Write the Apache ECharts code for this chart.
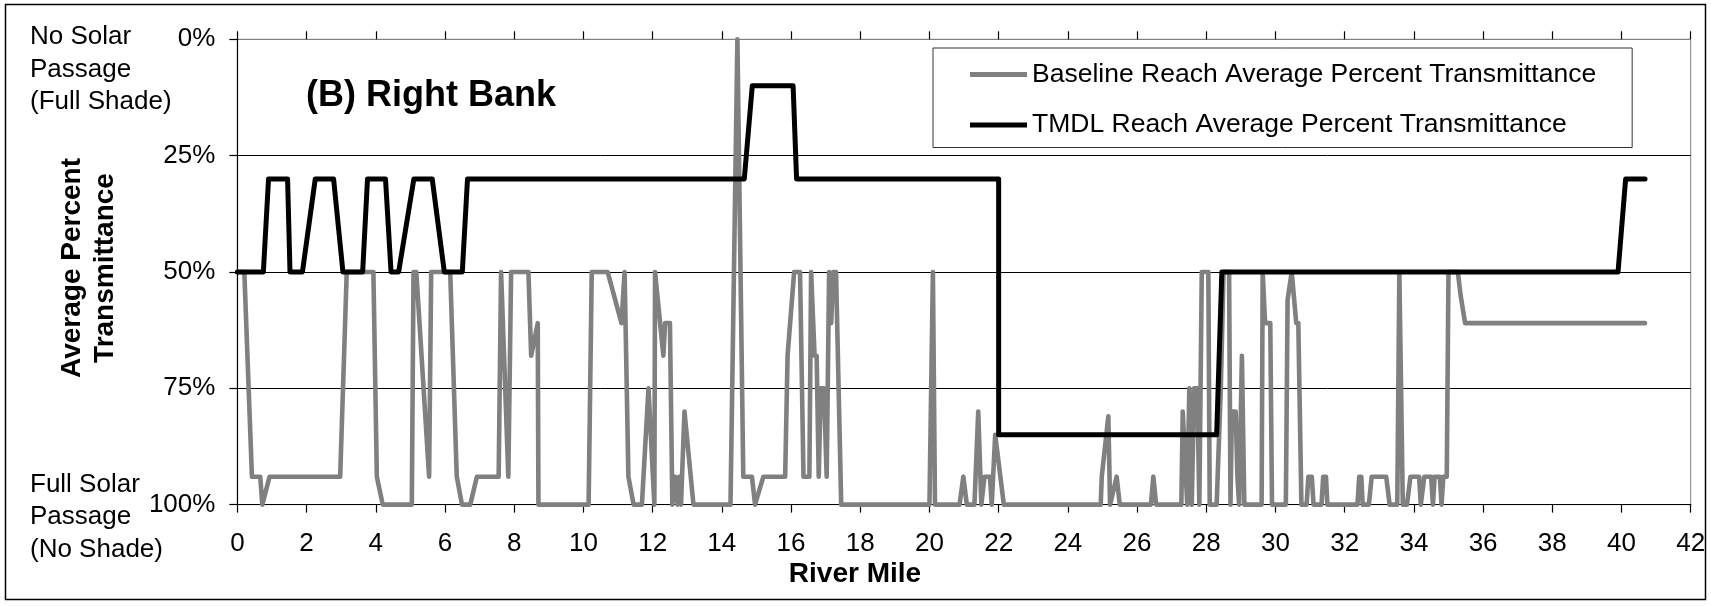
<!DOCTYPE html>
<html>
<head>
<meta charset="utf-8">
<script src="https://cdn.jsdelivr.net/npm/echarts@6/dist/echarts.min.js"></script>
<style>
html,body{margin:0;padding:0;background:#fff;}
#chart{width:1711px;height:606px;}
</style>
</head>
<body>
<div id="chart"></div>
<script>
// ---- data (river mile, average percent transmittance) ----
const baselineName = 'Baseline Reach Average Percent Transmittance';
const tmdlName = 'TMDL Reach Average Percent Transmittance';

const baselinePoints = [
  [0,50],[0.2,50],[0.42,94],[0.66,94],[0.72,100],[0.93,94],[2.97,94],[3.16,50],[3.93,50],[4.03,94],
  [4.2,100],[5.04,100],[5.09,50],[5.17,50],[5.54,94],[5.6,50],[6.15,50],[6.34,94],[6.49,100],[6.73,100],
  [6.92,94],[7.55,94],[7.62,50],[7.83,94],[7.91,50],[8.41,50],[8.49,68],[8.68,61],[8.7,100],[10.15,100],
  [10.24,50],[10.7,50],[11.1,61],[11.19,50],[11.3,94],[11.45,100],[11.69,100],[11.88,75],[12.05,100],[12.07,50],
  [12.31,68],[12.36,61],[12.5,61],[12.57,100],[12.65,94],[12.72,100],[12.77,94],[12.82,100],[12.92,80],[13.18,100],
  [14.25,100],[14.45,0],[14.62,94],[14.87,94],[14.96,100],[15.2,94],[15.83,94],[15.9,68],[16.09,50],[16.26,50],
  [16.36,94],[16.53,94],[16.58,50],[16.68,68],[16.74,68],[16.8,94],[16.86,75],[16.95,75],[17.03,94],[17.1,50],
  [17.16,61],[17.22,50],[17.3,50],[17.45,100],[20.0,100],[20.1,50],[20.16,100],[20.87,100],[20.98,94],[21.08,100],
  [21.3,100],[21.41,80],[21.5,100],[21.59,94],[21.75,94],[21.8,100],[21.9,85],[22.05,94],[22.15,100],
  [24.95,100],[24.98,94],[25.17,81],[25.22,100],[25.41,94],[25.5,100],[26.4,100],[26.47,94],[26.55,100],
  [27.28,100],[27.32,80],[27.45,100],[27.51,75],[27.58,100],[27.65,75],[27.74,75],[27.8,100],[27.87,50],[28.06,50],
  [28.1,100],[28.3,100],[28.42,75],[28.5,50],[28.66,50],[28.7,100],[28.74,80],[28.85,80],[28.9,94],[28.95,100],
  [29.03,68],[29.1,100],[29.6,100],[29.63,50],[29.7,61],[29.85,61],[29.9,100],[30.3,100],[30.35,56],[30.47,50],
  [30.6,61],[30.66,61],[30.75,100],[30.9,100],[30.95,94],[31.05,94],[31.1,100],[31.33,100],[31.38,94],[31.46,94],
  [31.5,100],[32.37,100],[32.42,94],[32.48,94],[32.52,100],[32.7,100],[32.78,94],[33.2,94],[33.3,100],[33.52,100],
  [33.58,50],[33.62,50],[33.68,100],[33.8,100],[33.9,94],[34.15,94],[34.2,100],[34.3,94],[34.5,94],[34.55,100],
  [34.6,94],[34.75,94],[34.8,100],[34.85,94],[34.95,94],[35.0,50],[35.27,50],[35.35,55],[35.48,61],[40.68,61]
];

const tmdlPoints = [
  [0,50],[0.75,50],[0.9,30],[1.45,30],[1.52,50],[1.88,50],[2.25,30],[2.78,30],[3.05,50],[3.62,50],
  [3.76,30],[4.28,30],[4.44,50],[4.66,50],[5.1,30],[5.63,30],[5.98,50],[6.5,50],[6.65,30],[14.65,30],
  [14.88,10],[16.06,10],[16.16,30],[22,30],[22,85],[28.3,85],[28.45,50],[39.9,50],[40.12,30],[40.68,30]
];

const xAxisMin = 0, xAxisMax = 42, xAxisStep = 2;
const yAxisMin = 0, yAxisMax = 100, yAxisStep = 25;

const topNote = 'No Solar\nPassage\n(Full Shade)';
const bottomNote = 'Full Solar\nPassage\n(No Shade)';
const yTitle = 'Average Percent\nTransmittance';
const xTitle = 'River Mile';
const chartTitle = '(B) Right Bank';

// ---- chart ----
const FONT = 'Liberation Sans, Arial, sans-serif';
const chart = echarts.init(document.getElementById('chart'), null, {renderer: 'canvas'});

const option = {
  animation: false,
  backgroundColor: '#fff',
  title: {
    text: chartTitle, left: 306, top: 78, padding: 0,
    textStyle: {fontFamily: FONT, fontSize: 36, fontWeight: 'bold', color: '#000'}
  },
  legend: {
    orient: 'vertical', left: 933, top: 48,
    padding: [13, 36, 9, 37],
    itemGap: 23.5, itemWidth: 57, itemHeight: 5,
    borderColor: '#333', borderWidth: 1, backgroundColor: '#fff',
    textStyle: {fontFamily: FONT, fontSize: 26.5, color: '#000'},
    data: [{name: baselineName, icon: 'rect'}, {name: tmdlName, icon: 'rect'}]
  },
  grid: {
    left: 237.4, right: 20.3, top: 39.3, bottom: 101.4,
    show: true, borderColor: '#808080', borderWidth: 1, backgroundColor: 'transparent'
  },
  xAxis: [{
    type: 'value', min: xAxisMin, max: xAxisMax, interval: xAxisStep,
    axisLine: {show: true, onZero: false, lineStyle: {color: '#000', width: 1.2}},
    axisTick: {show: true, inside: false, length: 8, lineStyle: {color: '#000', width: 1.2}},
    axisLabel: {fontFamily: FONT, fontSize: 26, color: '#000', margin: 26},
    splitLine: {show: false}
  }, {
    type: 'value', min: xAxisMin, max: xAxisMax, interval: xAxisStep, position: 'bottom', offset: 0,
    axisLine: {show: false},
    axisTick: {show: true, inside: true, length: 8, lineStyle: {color: '#000', width: 1.2}},
    axisLabel: {show: false},
    splitLine: {show: false}
  }],
  yAxis: {
    type: 'value', inverse: true, min: yAxisMin, max: yAxisMax, interval: yAxisStep,
    axisLine: {show: true, onZero: false, lineStyle: {color: '#000', width: 1.2}},
    axisTick: {show: true, inside: false, length: 8, lineStyle: {color: '#000', width: 1.2}},
    axisLabel: {fontFamily: FONT, fontSize: 26, color: '#000', margin: 22, formatter: '{value}%'},
    splitLine: {show: true, lineStyle: {color: ['#808080', '#000', '#000', '#000', '#000'], width: 1}}
  },
  series: [{
    name: baselineName, type: 'line', xAxisIndex: 0,
    data: baselinePoints, symbol: 'none', showSymbol: false,
    lineStyle: {color: '#808080', width: 4.6, cap: 'round', join: 'round'},
    itemStyle: {color: '#808080'}, z: 2
  }, {
    name: tmdlName, type: 'line', xAxisIndex: 0,
    data: tmdlPoints, symbol: 'none', showSymbol: false,
    lineStyle: {color: '#000', width: 5, cap: 'round', join: 'round'},
    itemStyle: {color: '#000'}, z: 3
  }],
  graphic: [
    {type: 'rect', silent: true, z: 100,
     shape: {x: 5.5, y: 4.5, width: 1700, height: 595},
     style: {fill: 'none', stroke: '#000', lineWidth: 1.5}},
    {type: 'text', x: 30, y: 21, z: 100,
     style: {text: topNote, font: '26px ' + FONT, fill: '#000', lineHeight: 32.5,
             align: 'left', verticalAlign: 'top', textAlign: 'left', textVerticalAlign: 'top'}},
    {type: 'text', x: 30, y: 468.5, z: 100,
     style: {text: bottomNote, font: '26px ' + FONT, fill: '#000', lineHeight: 32.5,
             align: 'left', verticalAlign: 'top', textAlign: 'left', textVerticalAlign: 'top'}},
    {type: 'text', x: 89, y: 268, rotation: Math.PI / 2, z: 100,
     style: {text: yTitle, font: 'bold 28px ' + FONT, fill: '#000', lineHeight: 32.6,
             align: 'center', verticalAlign: 'middle', textAlign: 'center', textVerticalAlign: 'middle'}},
    {type: 'text', x: 855, y: 574, z: 100,
     style: {text: xTitle, font: 'bold 28px ' + FONT, fill: '#000',
             align: 'center', verticalAlign: 'middle', textAlign: 'center', textVerticalAlign: 'middle'}}
  ]
};
chart.setOption(option);
</script>
</body>
</html>
